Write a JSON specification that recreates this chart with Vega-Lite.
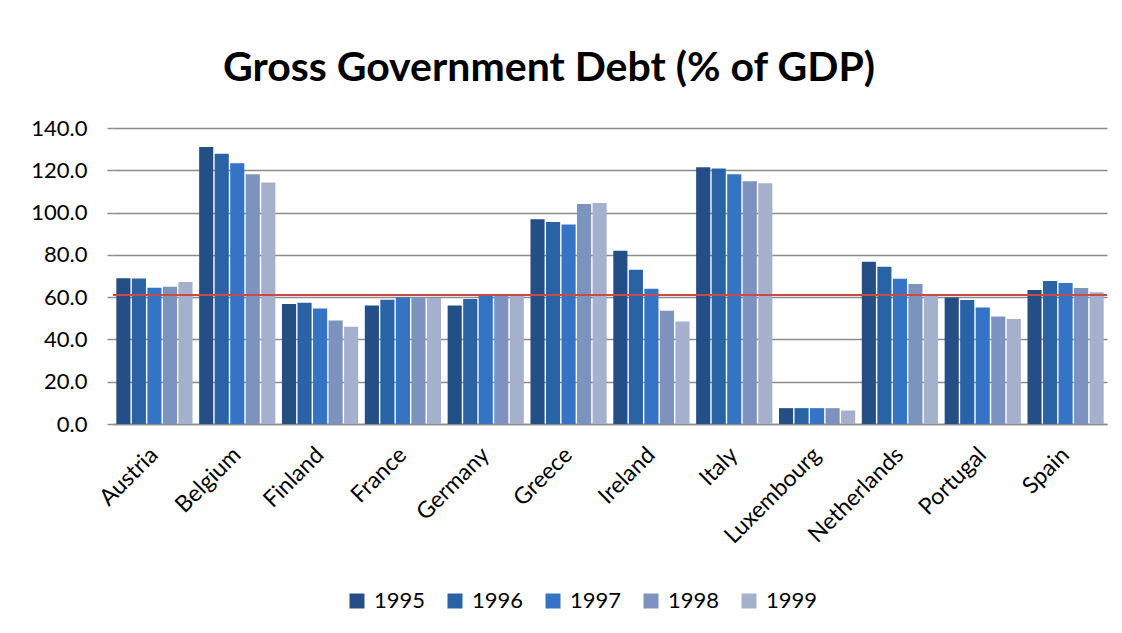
{
  "$schema": "https://vega.github.io/schema/vega-lite/v6.json",
  "width": 994,
  "height": 296,
  "autosize": {"type": "none"},
  "padding": {"left": 113, "top": 128, "right": 15, "bottom": 209},
  "background": "white",
  "title": {
    "text": "Gross Government Debt (% of GDP)",
    "font": "Lato",
    "fontSize": 41,
    "fontWeight": "bold",
    "color": "#000000",
    "anchor": "middle",
    "frame": "group",
    "dx": -61,
    "offset": 27
  },
  "config": {
    "view": {"stroke": null},
    "axis": {"labelFont": "Lato", "labelFontSize": 22, "labelColor": "#000000"},
    "legend": {"labelFont": "Lato", "labelFontSize": 22, "labelColor": "#000000"}
  },
  "data": {
    "values": [
      {"country": "Austria", "year": "1995", "value": 68.9},
      {"country": "Austria", "year": "1996", "value": 68.8},
      {"country": "Austria", "year": "1997", "value": 64.5},
      {"country": "Austria", "year": "1998", "value": 64.9},
      {"country": "Austria", "year": "1999", "value": 67.2},
      {"country": "Belgium", "year": "1995", "value": 131.0},
      {"country": "Belgium", "year": "1996", "value": 127.8},
      {"country": "Belgium", "year": "1997", "value": 123.3},
      {"country": "Belgium", "year": "1998", "value": 118.1},
      {"country": "Belgium", "year": "1999", "value": 114.2},
      {"country": "Finland", "year": "1995", "value": 56.8},
      {"country": "Finland", "year": "1996", "value": 57.4},
      {"country": "Finland", "year": "1997", "value": 54.6},
      {"country": "Finland", "year": "1998", "value": 48.9},
      {"country": "Finland", "year": "1999", "value": 46.0},
      {"country": "France", "year": "1995", "value": 56.0},
      {"country": "France", "year": "1996", "value": 58.8},
      {"country": "France", "year": "1997", "value": 59.9},
      {"country": "France", "year": "1998", "value": 60.1},
      {"country": "France", "year": "1999", "value": 59.6},
      {"country": "Germany", "year": "1995", "value": 56.0},
      {"country": "Germany", "year": "1996", "value": 59.1},
      {"country": "Germany", "year": "1997", "value": 60.5},
      {"country": "Germany", "year": "1998", "value": 61.0},
      {"country": "Germany", "year": "1999", "value": 61.5},
      {"country": "Greece", "year": "1995", "value": 96.9},
      {"country": "Greece", "year": "1996", "value": 95.5},
      {"country": "Greece", "year": "1997", "value": 94.4},
      {"country": "Greece", "year": "1998", "value": 104.0},
      {"country": "Greece", "year": "1999", "value": 104.5},
      {"country": "Ireland", "year": "1995", "value": 81.9},
      {"country": "Ireland", "year": "1996", "value": 72.9},
      {"country": "Ireland", "year": "1997", "value": 64.0},
      {"country": "Ireland", "year": "1998", "value": 53.6},
      {"country": "Ireland", "year": "1999", "value": 48.5},
      {"country": "Italy", "year": "1995", "value": 121.4},
      {"country": "Italy", "year": "1996", "value": 120.9},
      {"country": "Italy", "year": "1997", "value": 118.1},
      {"country": "Italy", "year": "1998", "value": 114.8},
      {"country": "Italy", "year": "1999", "value": 113.9},
      {"country": "Luxembourg", "year": "1995", "value": 7.5},
      {"country": "Luxembourg", "year": "1996", "value": 7.5},
      {"country": "Luxembourg", "year": "1997", "value": 7.5},
      {"country": "Luxembourg", "year": "1998", "value": 7.5},
      {"country": "Luxembourg", "year": "1999", "value": 6.4},
      {"country": "Netherlands", "year": "1995", "value": 76.7},
      {"country": "Netherlands", "year": "1996", "value": 74.4},
      {"country": "Netherlands", "year": "1997", "value": 68.7},
      {"country": "Netherlands", "year": "1998", "value": 66.2},
      {"country": "Netherlands", "year": "1999", "value": 60.7},
      {"country": "Portugal", "year": "1995", "value": 59.8},
      {"country": "Portugal", "year": "1996", "value": 58.7},
      {"country": "Portugal", "year": "1997", "value": 55.1},
      {"country": "Portugal", "year": "1998", "value": 50.8},
      {"country": "Portugal", "year": "1999", "value": 49.7},
      {"country": "Spain", "year": "1995", "value": 63.4},
      {"country": "Spain", "year": "1996", "value": 67.6},
      {"country": "Spain", "year": "1997", "value": 66.7},
      {"country": "Spain", "year": "1998", "value": 64.3},
      {"country": "Spain", "year": "1999", "value": 62.3}
    ]
  },
  "layer": [
    {
      "mark": {"type": "bar"},
      "encoding": {
        "x": {
          "field": "country",
          "type": "nominal",
          "sort": null,
          "scale": {"paddingInner": 0.08, "paddingOuter": 0.04},
          "axis": {
            "title": null,
            "labelAngle": -45,
            "labelAlign": "right",
            "labelBaseline": "middle",
            "labelPadding": 27,
            "labelFontSize": 23,
            "ticks": false,
            "domainColor": "#8c8c8c",
            "domainWidth": 1.5,
            "grid": false
          }
        },
        "xOffset": {
          "field": "year",
          "type": "nominal",
          "scale": {"paddingInner": 0.09, "paddingOuter": 0}
        },
        "y": {
          "field": "value",
          "type": "quantitative",
          "scale": {"domain": [0, 140], "nice": false},
          "axis": {
            "title": null,
            "values": [0, 20, 40, 60, 80, 100, 120, 140],
            "format": ".1f",
            "domain": false,
            "tickColor": "#8c8c8c",
            "tickSize": 6,
            "tickWidth": 1.5,
            "labelPadding": 20,
            "gridColor": "#8c8c8c",
            "gridWidth": 1.5,
            "gridOpacity": 1
          }
        },
        "color": {
          "field": "year",
          "type": "nominal",
          "scale": {
            "domain": ["1995", "1996", "1997", "1998", "1999"],
            "range": ["#234f86", "#2a62a6", "#3574c4", "#7c93c0", "#a5b1cc"]
          },
          "legend": {
            "title": null,
            "orient": "none",
            "direction": "horizontal",
            "legendX": 233,
            "legendY": 462,
            "symbolType": "square",
            "symbolSize": 225,
            "symbolOpacity": 1,
            "symbolStrokeWidth": 0,
            "labelOffset": 6,
            "columnPadding": 18
          }
        }
      }
    },
    {
      "data": {"values": [{"threshold": 61}]},
      "mark": {"type": "rule", "color": "#cc4a45", "strokeWidth": 2},
      "encoding": {
        "y": {"field": "threshold", "type": "quantitative"}
      }
    }
  ]
}
